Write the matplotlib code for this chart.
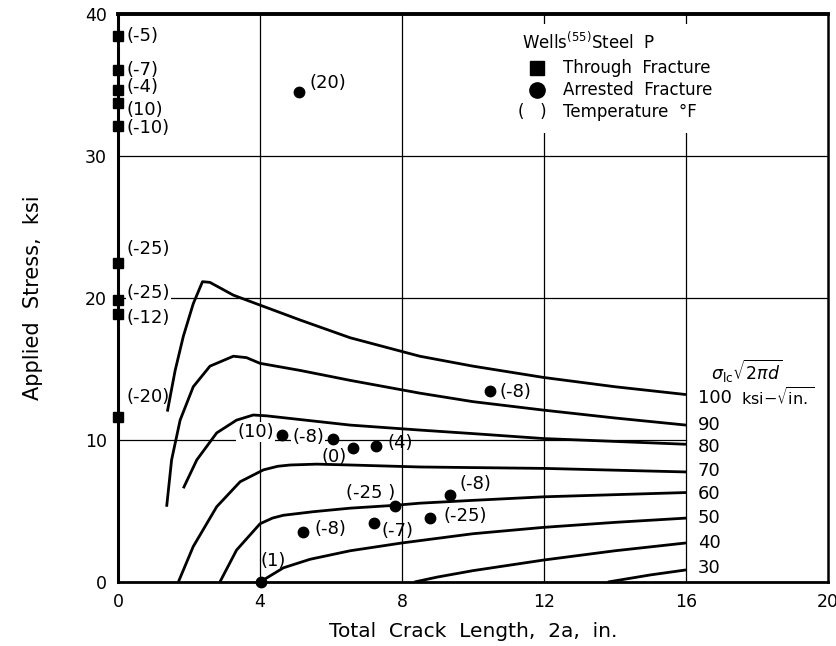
import matplotlib
matplotlib.use("Agg")
import matplotlib.pyplot as plt
from matplotlib.patches import Rectangle

plt.rcParams['font.family'] = ['DejaVu Sans']
plt.rcParams['mathtext.fontset'] = 'dejavusans'

# ---- fracture-toughness curves, sigma_lc*sqrt(2*pi*d) in ksi-sqrt(in.) ----
k_levels = [100, 90, 80, 70, 60, 50, 40, 30]

k100_x = [1.39, 1.61, 1.84, 2.12, 2.38, 2.59, 3.25, 4.0, 5.13, 6.54, 8.5, 10.0, 12.0, 14.0, 16.0]
k100_y = [12.0, 14.9, 17.3, 19.6, 21.15, 21.1, 20.2, 19.5, 18.45, 17.2, 15.9, 15.2, 14.4, 13.75, 13.2]

k90_x = [1.37, 1.51, 1.75, 2.12, 2.59, 3.25, 3.62, 4.0, 5.13, 6.54, 8.5, 10.0, 12.0, 14.0, 16.0]
k90_y = [5.3, 8.6, 11.4, 13.75, 15.2, 15.9, 15.8, 15.4, 14.9, 14.2, 13.3, 12.7, 12.1, 11.55, 11.05]

k80_x = [1.84, 2.22, 2.78, 3.34, 3.81, 4.19, 6.54, 8.5, 10.0, 12.0, 14.0, 16.0]
k80_y = [6.6, 8.6, 10.5, 11.4, 11.76, 11.7, 11.05, 10.7, 10.45, 10.1, 9.9, 9.7]

k70_x = [1.70, 2.12, 2.78, 3.44, 4.1, 4.5, 4.85, 5.6, 6.54, 8.5, 12.0, 16.0]
k70_y = [0.0, 2.5, 5.3, 7.06, 7.9, 8.15, 8.24, 8.3, 8.24, 8.1, 8.0, 7.75]

k60_x = [2.87, 3.34, 4.0, 4.35, 4.66, 5.5, 6.54, 7.8, 8.5, 10.0, 12.0, 14.0, 16.0]
k60_y = [0.0, 2.25, 4.1, 4.5, 4.7, 4.95, 5.2, 5.4, 5.55, 5.75, 6.0, 6.15, 6.3]

k50_x = [4.0, 4.66, 5.41, 6.54, 8.0, 10.0, 12.0, 14.0, 16.0]
k50_y = [0.0, 1.0, 1.6, 2.2, 2.75, 3.4, 3.85, 4.2, 4.5]

k40_x = [8.35, 9.0, 10.0, 12.0, 14.0, 16.0]
k40_y = [0.0, 0.35, 0.8, 1.55, 2.2, 2.75]

k30_x = [13.8, 15.0, 16.0]
k30_y = [0.0, 0.5, 0.85]

# ---- Wells (55), Steel P: through fractures (all at zero crack length) ----
through_x = [0, 0, 0, 0, 0, 0, 0, 0, 0]
through_y = [38.45, 36.05, 34.65, 33.75, 32.1, 22.5, 19.85, 18.9, 11.6]
through_temp = ['(-5)', '(-7)', '(-4)', '(10)', '(-10)', '(-25)', '(-25)', '(-12)', '(-20)']

# ---- arrested fractures ----
arrest_x = [5.1, 4.62, 6.06, 6.62, 7.27, 7.8, 9.35, 8.79, 7.21, 5.21, 4.03, 10.48]
arrest_y = [34.5, 10.35, 10.05, 9.43, 9.58, 5.35, 6.13, 4.5, 4.15, 3.52, 0.0, 13.45]
arrest_temp = ['(20)', '(10)', '(-8)', '(0)', '(4)', '(-25 )', '(-8)', '(-25)', '(-7)', '(-8)', '(1)', '(-8)']

x_ticks = [0, 4, 8, 12, 16, 20]
y_ticks = [0, 10, 20, 30, 40]

fig = plt.figure(figsize=(8.37, 6.46), dpi=100)
ax = fig.add_axes([118 / 837, 1 - 582 / 646, 710 / 837, 568 / 646])
ax.set_xlim(0, 20)
ax.set_ylim(0, 40)
ax.set_xticks(x_ticks)
ax.set_yticks(y_ticks)
ax.tick_params(length=0, labelsize=12.5, pad=8)

for s, w in zip(['top', 'left', 'bottom', 'right'], [2.8, 2.2, 2.0, 1.8]):
    ax.spines[s].set_linewidth(w)
    ax.spines[s].set_zorder(6)

# grid
grid_kw = dict(color='black', lw=0.9, zorder=1)
for gx in [4, 8, 12, 16]:
    ax.axvline(gx, **grid_kw)
for gy in [20, 30]:
    ax.axhline(gy, **grid_kw)
ax.plot([0, 16], [10, 10], **grid_kw)

# curves
curves = [(k100_x, k100_y), (k90_x, k90_y), (k80_x, k80_y), (k70_x, k70_y),
          (k60_x, k60_y), (k50_x, k50_y), (k40_x, k40_y), (k30_x, k30_y)]
for cx, cy in curves:
    ax.plot(cx, cy, color='black', lw=2.0, solid_capstyle='butt',
            solid_joinstyle='round', zorder=3)

# curve labels on the right
label_y = [12.96, 11.05, 9.5, 7.8, 6.2, 4.5, 2.75, 0.99]
for k, ly in zip(k_levels, label_y):
    ax.text(16.33, ly, str(k), fontsize=13, ha='left', va='center', zorder=5)
ax.text(17.55, 12.96, r'ksi$-\sqrt{\mathrm{in.}}$', fontsize=11.5, ha='left', va='center', zorder=5)
ax.text(16.7, 14.85, r'$\sigma_{\mathrm{lc}}\sqrt{2\pi d}$', fontsize=12.5, ha='left', va='center', zorder=5)

# through-fracture points
ax.plot(through_x, through_y, 's', color='black', ms=7, clip_on=False, zorder=7)
sq_dy = [0, 0, 3, -7, -2, 13, 7, -4, 20]
sq_box = [False, False, False, False, False, False, True, False, False]
for yv, t, dy, boxed in zip(through_y, through_temp, sq_dy, sq_box):
    bb = dict(boxstyle='square,pad=0.05', fc='white', ec='none') if boxed else None
    ax.annotate(t, (0, yv), xytext=(9, dy), textcoords='offset pixels',
                fontsize=13, ha='left', va='center', zorder=5, bbox=bb)

# arrested-fracture points
ax.plot(arrest_x, arrest_y, 'o', color='black', ms=7.5, clip_on=False, zorder=7)
arr_off = [(10, 9, 'left'), (-8, 3, 'right'), (-9, 2, 'right'), (-6, -9, 'right'),
           (11, 3, 'left'), (0, 13, 'right'), (10, 11, 'left'), (13, 2, 'left'),
           (8, -8, 'left'), (12, 3, 'left'), (-1, 21, 'left'), (9, -1, 'left')]
arr_box = [False, True, True, False, False, False, False, False, False, False, False, False]
for xv, yv, t, (dx, dy, ha), boxed in zip(arrest_x, arrest_y, arrest_temp, arr_off, arr_box):
    bb = dict(boxstyle='square,pad=0.05', fc='white', ec='none') if boxed else None
    ax.annotate(t, (xv, yv), xytext=(dx, dy), textcoords='offset pixels',
                fontsize=13, ha=ha, va='center', zorder=5, bbox=bb)

# key
ax.add_patch(Rectangle((10.9, 31.6), 6.3, 7.7, fc='white', ec='none', zorder=2))
ax.text(11.38, 38.0, r'Wells$^{(55)}$Steel  P', fontsize=12, ha='left', va='center', zorder=5)
ax.plot([11.8], [36.2], 's', color='black', ms=10, zorder=5)
ax.text(12.54, 36.2, 'Through  Fracture', fontsize=12, ha='left', va='center', zorder=5)
ax.plot([11.8], [34.65], 'o', color='black', ms=11, zorder=5)
ax.text(12.54, 34.65, 'Arrested  Fracture', fontsize=12, ha='left', va='center', zorder=5)
ax.text(11.68, 33.1, '(   )', fontsize=12, ha='center', va='center', zorder=5)
ax.text(12.54, 33.1, 'Temperature  \u00b0F', fontsize=12, ha='left', va='center', zorder=5)

ax.set_xlabel('Total  Crack  Length,  2a,  in.', fontsize=14.5, labelpad=8)
ax.set_ylabel('Applied  Stress,  ksi', fontsize=15, labelpad=30)

fig.savefig('out.png', dpi=100)
